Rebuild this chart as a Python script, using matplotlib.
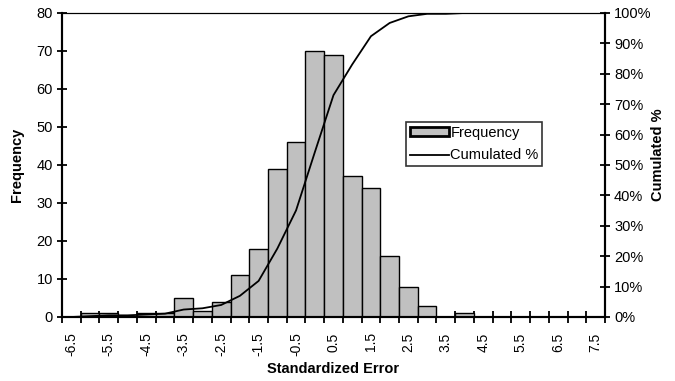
import numpy as np
import matplotlib.pyplot as plt
from matplotlib.patches import Patch
from matplotlib.ticker import FuncFormatter

plt.rcParams['font.family'] = ['Liberation Sans', 'DejaVu Sans']
plt.rcParams['font.size'] = 10.5

# histogram bins of the standardized error (step 0.5) and their counts
bins = [-6.5, -6.0, -5.5, -5.0, -4.5, -4.0, -3.5, -3.0, -2.5, -2.0, -1.5, -1.0,
        -0.5, 0.0, 0.5, 1.0, 1.5, 2.0, 2.5, 3.0, 3.5, 4.0, 4.5, 5.0, 5.5, 6.0,
        6.5, 7.0, 7.5]
freq = [0, 1, 1, 0, 1, 1, 5, 1.5, 4, 11, 18, 39, 46, 70, 69, 37, 34, 16, 8, 3,
        0, 1, 0, 0, 0, 0, 0, 0, 0]

cum_pct = np.cumsum(freq) / np.sum(freq)

fig = plt.figure(figsize=(6.75, 3.81), dpi=100)
ax = fig.add_axes([62/675, 1-317/381, (605-62)/675, (317-13)/381])
x = np.arange(len(bins))
ax.bar(x, freq, width=1.0, color='#C0C0C0', edgecolor='black',
       linewidth=1.0, zorder=2)
ax.set_xlim(-0.5, len(bins) - 0.5)
ax.set_ylim(0, 80)
ax.set_yticks(np.arange(0, 81, 10))

# category ticks on bin boundaries, labels on every second bin
ax.set_xticks(np.arange(len(bins) + 1) - 0.5)
ax.set_xticklabels([])
ax.set_xticks(x[::2], minor=True)
ax.set_xticklabels(['%g' % b for b in bins[::2]], minor=True, rotation=90,
                   fontsize=10)
ax.tick_params(axis='x', which='minor', length=0, pad=11)
ax.tick_params(axis='x', which='major', direction='inout', length=8, width=1.3)
ax.tick_params(axis='y', direction='inout', length=7, width=1.3, pad=3)

ax2 = ax.twinx()
line, = ax2.plot(x, cum_pct, color='black', linewidth=1.3, zorder=3)
ax2.set_ylim(0, 1)
ax2.set_yticks(np.arange(0, 1.01, 0.1))
ax2.yaxis.set_major_formatter(FuncFormatter(lambda v, p: '%d%%' % round(v * 100)))
ax2.tick_params(axis='y', direction='inout', length=7, width=1.3, pad=3)

for a in (ax, ax2):
    a.spines['left'].set_linewidth(1.5)
    a.spines['right'].set_linewidth(1.5)
    a.spines['bottom'].set_linewidth(1.5)
    a.spines['top'].set_linewidth(0.8)

ax.set_xlabel('Standardized Error', fontweight='bold', labelpad=4)
ax.set_ylabel('Frequency', fontweight='bold', labelpad=9)
ax2.set_ylabel('Cumulated %', fontweight='bold')
ax2.yaxis.set_label_coords(1.085, 0.535)

bar_key = Patch(facecolor='#C0C0C0', edgecolor='black', linewidth=2.0)
leg = fig.legend([bar_key, line], ['Frequency', 'Cumulated %'],
                 loc='upper left', bbox_to_anchor=(406/675, 1-122/381),
                 frameon=True, fancybox=False, borderpad=0.25,
                 handlelength=2.7, handleheight=0.5, handletextpad=0.1,
                 labelspacing=0.6, borderaxespad=0)
leg.get_frame().set_edgecolor('black')
leg.get_frame().set_linewidth(1.2)

fig.savefig('out.png', dpi=100)
